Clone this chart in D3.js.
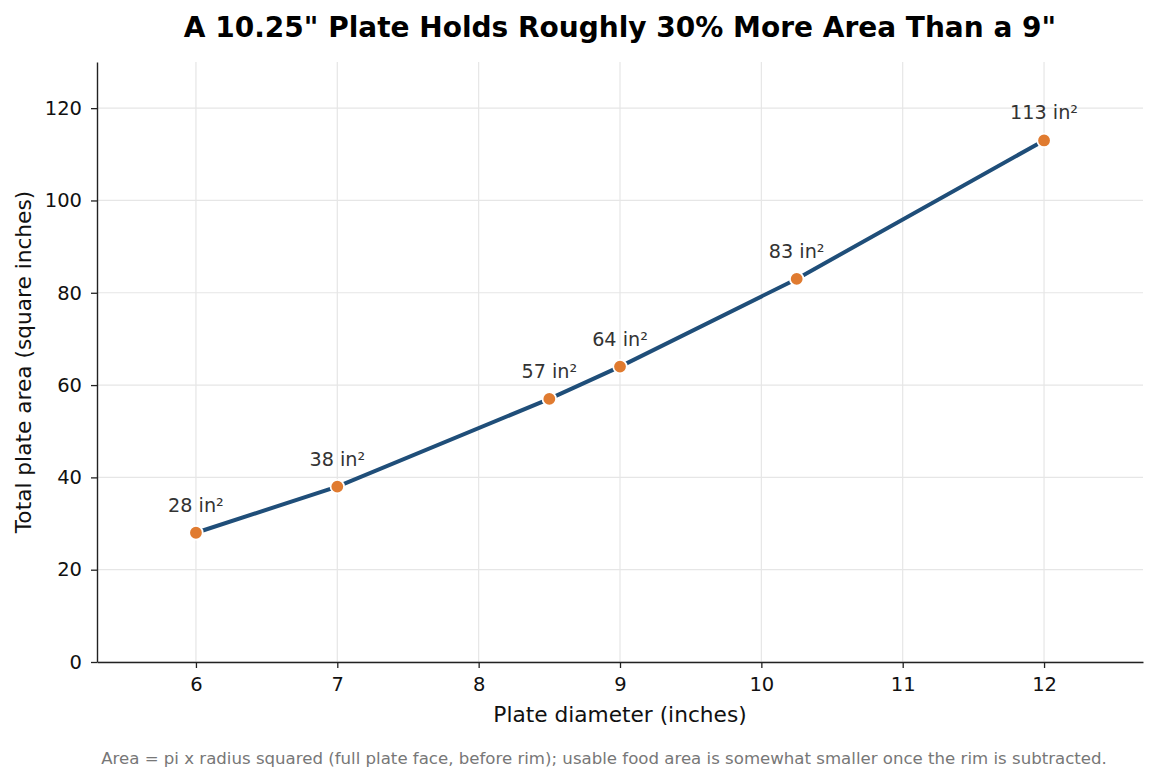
<!DOCTYPE html>
<html>
<head>
<meta charset="utf-8">
<script src="https://cdn.jsdelivr.net/npm/d3@7"></script>
<style>
  body { margin: 0; background: #fff; }
  text { font-family: "DejaVu Sans", sans-serif; }
</style>
</head>
<body>
<div id="chart"></div>
<script>
// Plate diameters and their areas
var diameters = [6, 7, 8.5, 9, 10.25, 12];
var areas = [28, 38, 57, 64, 83, 113];
var xTicks = [6, 7, 8, 9, 10, 11, 12];
var yTicks = [0, 20, 40, 60, 80, 100, 120];

var W = 1158, H = 783;
var margin = {top: 62, right: 15, bottom: 121, left: 97},
    width = W - margin.left - margin.right,
    height = H - margin.top - margin.bottom;

var svg = d3.select("#chart").append("svg")
    .attr("width", W)
    .attr("height", H);

var g = svg.append("g")
    .attr("transform", "translate(" + margin.left + "," + margin.top + ")");

var x = d3.scaleLinear().domain([5.3, 12.7]).range([0, width]);
var y = d3.scaleLinear().domain([0, 130]).range([height, 0]);

// Grid
g.append("g").selectAll("line").data(xTicks).enter().append("line")
    .attr("x1", d => x(d)).attr("x2", d => x(d))
    .attr("y1", 0).attr("y2", height)
    .attr("stroke", "#e6e6e6").attr("stroke-width", 1.2);
g.append("g").selectAll("line").data(yTicks).enter().append("line")
    .attr("x1", 0).attr("x2", width)
    .attr("y1", d => y(d)).attr("y2", d => y(d))
    .attr("stroke", "#e6e6e6").attr("stroke-width", 1.2);

// Axes
var xAxis = g.append("g")
    .attr("transform", "translate(0," + height + ")")
    .call(d3.axisBottom(x).tickValues(xTicks).tickSize(6).tickPadding(9).tickSizeOuter(0));
var yAxis = g.append("g")
    .call(d3.axisLeft(y).tickValues(yTicks).tickSize(6).tickPadding(9).tickSizeOuter(0));

[xAxis, yAxis].forEach(function(a) {
  a.select(".domain").attr("stroke", "#222").attr("stroke-width", 1.4);
  a.selectAll(".tick line").attr("stroke", "#222").attr("stroke-width", 1.3);
  a.selectAll(".tick text")
    .style("font-family", "DejaVu Sans, sans-serif")
    .style("font-size", "19.5px")
    .attr("fill", "#111");
});

// Line
var line = d3.line()
    .x((d, i) => x(diameters[i]))
    .y(d => y(d));

g.append("path")
    .datum(areas)
    .attr("fill", "none")
    .attr("stroke", "#1f4e79")
    .attr("stroke-width", 4)
    .attr("d", line);

// Points
g.selectAll(".pt").data(areas).enter().append("circle")
    .attr("class", "pt")
    .attr("cx", (d, i) => x(diameters[i]))
    .attr("cy", d => y(d))
    .attr("r", 6.8)
    .attr("fill", "#e07b30")
    .attr("stroke", "#fff")
    .attr("stroke-width", 1.8);

// Value labels
g.selectAll(".lbl").data(areas).enter().append("text")
    .attr("class", "lbl")
    .attr("x", (d, i) => x(diameters[i]))
    .attr("y", d => y(d) - 21)
    .attr("text-anchor", "middle")
    .style("font-size", "19.2px")
    .attr("fill", "#333")
    .text(d => d + " in\u00b2");

// Title
svg.append("text")
    .attr("x", margin.left + width / 2)
    .attr("y", 37)
    .attr("text-anchor", "middle")
    .style("font-size", "28px")
    .style("font-weight", "bold")
    .attr("fill", "#000")
    .text("A 10.25\" Plate Holds Roughly 30% More Area Than a 9\"");

// Axis labels
svg.append("text")
    .attr("x", margin.left + width / 2)
    .attr("y", 722)
    .attr("text-anchor", "middle")
    .style("font-size", "21.7px")
    .attr("fill", "#111")
    .text("Plate diameter (inches)");

svg.append("text")
    .attr("transform", "translate(31," + (margin.top + height / 2) + ") rotate(-90)")
    .attr("text-anchor", "middle")
    .style("font-size", "21.7px")
    .attr("fill", "#111")
    .text("Total plate area (square inches)");

// Footnote
svg.append("text")
    .attr("x", 604)
    .attr("y", 764)
    .attr("text-anchor", "middle")
    .style("font-size", "16.6px")
    .attr("fill", "#777")
    .text("Area = pi x radius squared (full plate face, before rim); usable food area is somewhat smaller once the rim is subtracted.");
</script>
</body>
</html>
